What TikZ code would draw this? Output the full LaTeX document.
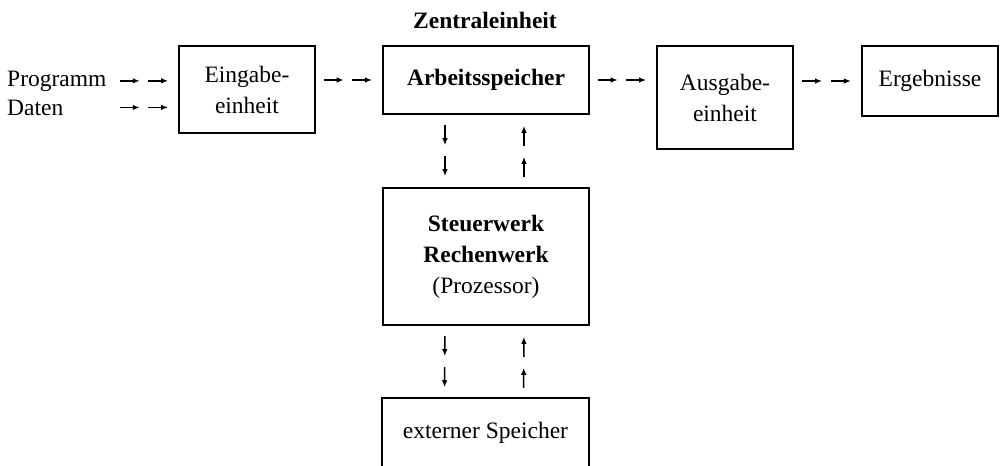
\documentclass[tikz,border=0pt]{standalone}
\usepackage{fontspec}
\setmainfont{Liberation Serif}
\usetikzlibrary{arrows.meta,decorations.markings}
\begin{document}
\begin{tikzpicture}[x=1pt,y=-1pt,
  txt/.style={font=\fontsize{23.5}{31}\selectfont},
  box/.style={draw, line width=1.9pt, inner sep=0pt, align=center, txt},
  arr/.style={line width=1.5pt, -{Latex[length=7pt,width=5.5pt]}},
  twoarr/.style={decorate, decoration={markings,
      mark=at position 0.42 with {\draw[arr] (-20,0) -- (0,0);},
      mark=at position 0.85 with {\draw[arr] (-20,0) -- (0,0);}}}
]
\useasboundingbox (0,0) rectangle (1002,466);

\node[txt, font=\fontsize{23.5}{31}\selectfont\bfseries] (zen) at (485,20) {Zentraleinheit};

\node[txt, anchor=base west, inner sep=0pt] (prog) at (7,86) {Programm};
\node[txt, anchor=base west, inner sep=0pt] (dat) at (7,115) {Daten};

\node[box, minimum width=136, minimum height=87] (ein) at (247,89.5) {Eingabe-\\einheit};
\node[box, minimum width=206, minimum height=68, font=\fontsize{23.5}{31}\selectfont\bfseries] (arb) at (486,80) {Arbeitsspeicher};
\node[box, minimum width=136, minimum height=103] (aus) at (725,97.5) {Ausgabe-\\einheit};
\node[box, minimum width=136, minimum height=70] (erg) at (930,81) {Ergebnisse};
\node[box, minimum width=206, minimum height=137] (steu) at (486,256.5) {\textbf{Steuerwerk}\\\textbf{Rechenwerk}\\(Prozessor)};
\node[box, draw=none, minimum width=205, minimum height=67] (ext) at (485.5,432.5) {externer Speicher};
\draw[line width=1.9pt] (ext.south west) -- (ext.north west) -- (ext.north east) -- (ext.south east);

\path[twoarr] ([xshift=-66pt]ein.west |- prog.east) -- (ein.west |- prog.east);
\path[twoarr] ([xshift=-66pt]ein.west |- dat.east) -- (ein.west |- dat.east);
\path[twoarr] (ein.east |- arb) -- (arb.west);
\path[twoarr] (arb.east) -- (aus.west |- arb);
\path[twoarr] (aus.east |- erg) -- (erg.west);

\path[twoarr] ([xshift=-41pt]arb.south) -- ([xshift=-41pt]steu.north);
\path[twoarr] ([xshift=38pt]steu.north) -- ([xshift=38pt]arb.south);
\path[twoarr] ([xshift=-41pt]steu.south) -- ([xshift=-41pt]ext.north);
\path[twoarr] ([xshift=38pt]ext.north) -- ([xshift=38pt]steu.south);
\end{tikzpicture}
\end{document}
